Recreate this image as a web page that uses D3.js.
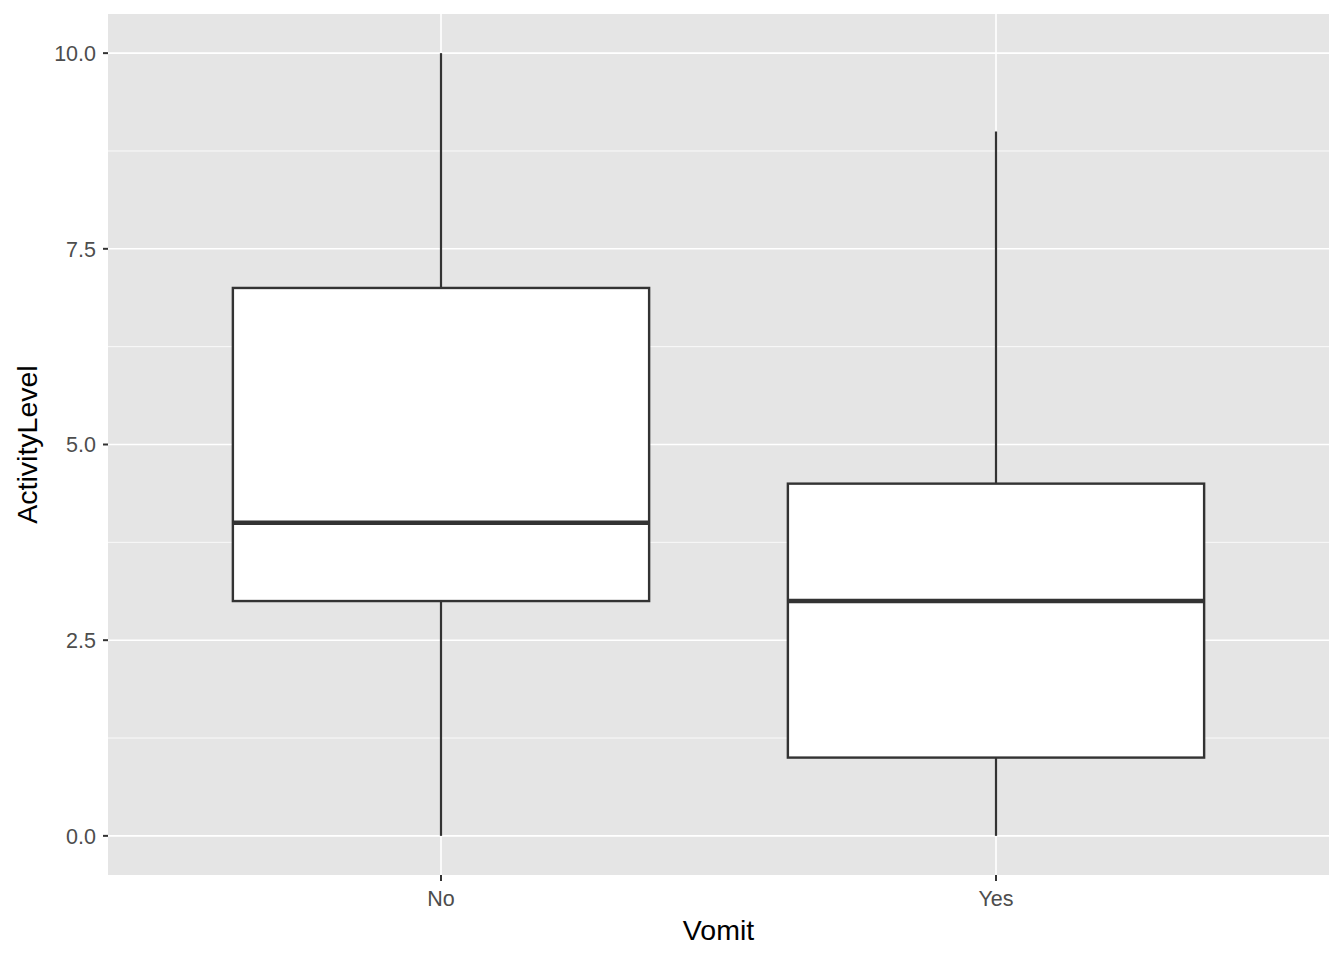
<!DOCTYPE html>
<html><head><meta charset="utf-8">
<script src="https://cdn.jsdelivr.net/npm/d3@7"></script>
<style>body{margin:0;background:#fff;} text{font-family:"Liberation Sans",Arial,sans-serif;}</style>
</head><body>
<svg id="chart" width="1344" height="960"></svg>
<script>
const categories = ["No", "Yes"];
const mins = [0, 0];
const q1s = [3, 1];
const medians = [4, 3];
const q3s = [7, 4.5];
const maxs = [10, 9];
const yTicks = [0, 2.5, 5, 7.5, 10];
const yMinor = [1.25, 3.75, 6.25, 8.75];

const svg = d3.select("#chart");
const L = 108, R = 1329, T = 14, B = 875;
const y = d3.scaleLinear().domain([-0.5, 10.5]).range([B, T]);
const xc = d3.scaleLinear().domain([0.4, 2.6]).range([L, R]);
const x = (c) => xc(categories.indexOf(c) + 1);

svg.append("rect").attr("x", L).attr("y", T).attr("width", R - L).attr("height", B - T).attr("fill", "#e5e5e5");

svg.selectAll(".ymin").data(yMinor).enter().append("line")
  .attr("x1", L).attr("x2", R).attr("y1", d => y(d)).attr("y2", d => y(d))
  .attr("stroke", "#fff").attr("stroke-width", 0.8);
svg.selectAll(".ymaj").data(yTicks).enter().append("line")
  .attr("x1", L).attr("x2", R).attr("y1", d => y(d)).attr("y2", d => y(d))
  .attr("stroke", "#fff").attr("stroke-width", 1.6);
svg.selectAll(".xmaj").data(categories).enter().append("line")
  .attr("x1", d => x(d)).attr("x2", d => x(d)).attr("y1", T).attr("y2", B)
  .attr("stroke", "#fff").attr("stroke-width", 1.6);

const bw = xc(1.375) - xc(0.625);
const data = categories.map((c, i) => ({c, min: mins[i], q1: q1s[i], med: medians[i], q3: q3s[i], max: maxs[i]}));
const g = svg.selectAll(".box").data(data).enter().append("g");
g.append("line").attr("x1", d => x(d.c)).attr("x2", d => x(d.c)).attr("y1", d => y(d.max)).attr("y2", d => y(d.q3))
  .attr("stroke", "#333").attr("stroke-width", 2.2);
g.append("line").attr("x1", d => x(d.c)).attr("x2", d => x(d.c)).attr("y1", d => y(d.q1)).attr("y2", d => y(d.min))
  .attr("stroke", "#333").attr("stroke-width", 2.2);
g.append("rect").attr("x", d => x(d.c) - bw / 2).attr("width", bw)
  .attr("y", d => y(d.q3)).attr("height", d => y(d.q1) - y(d.q3))
  .attr("fill", "#fff").attr("stroke", "#333").attr("stroke-width", 2.4);
g.append("line").attr("x1", d => x(d.c) - bw / 2).attr("x2", d => x(d.c) + bw / 2)
  .attr("y1", d => y(d.med)).attr("y2", d => y(d.med))
  .attr("stroke", "#333").attr("stroke-width", 4.4);

const fmt = d3.format(".1f");
svg.selectAll(".yt").data(yTicks).enter().append("line")
  .attr("x1", L - 5).attr("x2", L).attr("y1", d => y(d)).attr("y2", d => y(d))
  .attr("stroke", "#333").attr("stroke-width", 2);
svg.selectAll(".yl").data(yTicks).enter().append("text")
  .attr("x", L - 12).attr("y", d => y(d)).attr("dy", "0.36em").attr("text-anchor", "end")
  .attr("font-size", 21.5).attr("fill", "#4d4d4d").text(d => fmt(d));
svg.selectAll(".xt").data(categories).enter().append("line")
  .attr("x1", d => x(d)).attr("x2", d => x(d)).attr("y1", B).attr("y2", B + 6)
  .attr("stroke", "#333").attr("stroke-width", 2);
svg.selectAll(".xl").data(categories).enter().append("text")
  .attr("x", d => x(d)).attr("y", B + 31).attr("text-anchor", "middle")
  .attr("font-size", 21.5).attr("fill", "#4d4d4d").text(d => d);

svg.append("text").attr("x", (L + R) / 2).attr("y", 940).attr("text-anchor", "middle")
  .attr("font-size", 28.5).attr("fill", "#000").text("Vomit");
svg.append("text").attr("transform", `translate(37,${(T + B) / 2}) rotate(-90)`).attr("text-anchor", "middle")
  .attr("font-size", 28.5).attr("fill", "#000").text("ActivityLevel");
</script>
</body></html>
